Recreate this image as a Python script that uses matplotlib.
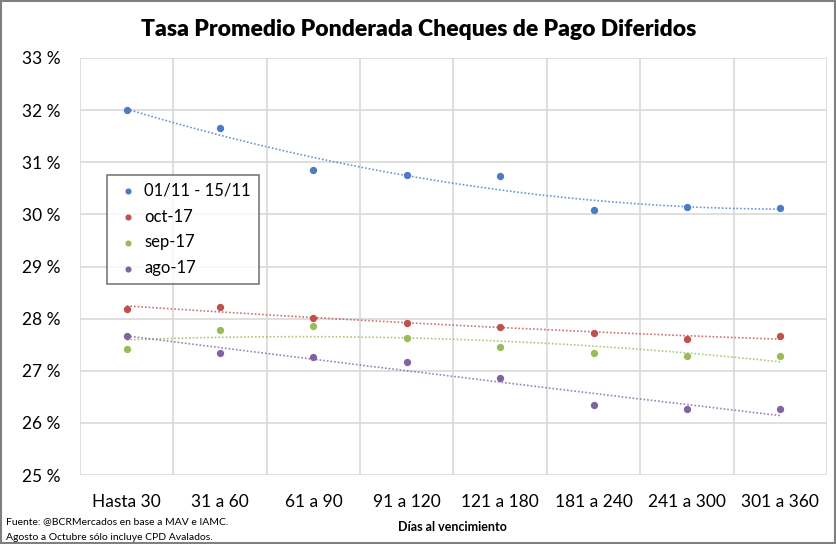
import numpy as np
import matplotlib
matplotlib.use("Agg")
import matplotlib.pyplot as plt
from matplotlib.patches import Rectangle

plt.rcParams['font.family'] = ['Lato', 'DejaVu Sans']

categorias = ["Hasta 30", "31 a 60", "61 a 90", "91 a 120",
              "121 a 180", "181 a 240", "241 a 300", "301 a 360"]
nov = [32.00, 31.66, 30.85, 30.76, 30.74, 30.08, 30.15, 30.12]
oct17 = [28.18, 28.22, 28.02, 27.92, 27.84, 27.72, 27.61, 27.66]
sep17 = [27.41, 27.79, 27.86, 27.63, 27.45, 27.35, 27.29, 27.29]
ago17 = [27.67, 27.35, 27.26, 27.16, 26.86, 26.35, 26.26, 26.26]
series = [("01/11 - 15/11", nov, "#4A7BC4"),
          ("oct-17", oct17, "#C0504D"),
          ("sep-17", sep17, "#9BBB59"),
          ("ago-17", ago17, "#8064A2")]

fig = plt.figure(figsize=(8.37, 5.44), dpi=100)
ax = fig.add_axes([80 / 837, 1 - 475 / 544, 747 / 837, 417 / 544])

x = np.arange(len(categorias))
xs = np.linspace(0, len(categorias) - 1, 200)
handles = []
for nombre, vals, col in series:
    h = ax.scatter(x, vals, s=18, color=col, zorder=3, label=nombre)
    handles.append(h)
    # linea de tendencia polinomica (orden 2), como en Excel
    c = np.polyfit(x, vals, 2)
    ax.plot(xs, np.polyval(c, xs), color=col, lw=1.2, ls=(0, (1, 1.2)),
            alpha=0.8, zorder=2)

ax.set_xlim(-0.5, len(categorias) - 0.5)
ax.set_ylim(25, 33)
ax.set_yticks(range(25, 34))
ax.set_yticklabels([f"{v} %" for v in range(25, 34)], fontsize=12.5)
ax.set_xticks(x)
ax.set_xticklabels(categorias, fontsize=12.5)
ax.set_xticks(np.arange(-0.5, len(categorias), 1), minor=True)
ax.tick_params(axis='both', which='both', length=0)
ax.tick_params(axis='x', pad=14)
ax.tick_params(axis='y', pad=14)
ax.grid(which='major', axis='y', color='#D9D9D9', lw=1.2)
ax.grid(which='minor', axis='x', color='#D9D9D9', lw=1.2)
for s in ax.spines.values():
    s.set_visible(False)
ax.set_axisbelow(True)

leg = ax.legend(handles=handles, loc='upper left',
                bbox_to_anchor=(27 / 747, 1 - 117 / 417), fontsize=12,
                frameon=True, fancybox=False, edgecolor='#595959',
                handletextpad=0.2, labelspacing=0.6, borderpad=0.45,
                borderaxespad=0, markerscale=0.8, handlelength=1.6)
leg.get_frame().set_linewidth(1.2)

fig.text(0.5, 1 - 30 / 544, "Tasa Promedio Ponderada Cheques de Pago Diferidos",
         ha='center', va='center', fontsize=16.5, fontweight='heavy')
fig.text(452 / 837, 1 - 527 / 544, "Días al vencimiento", ha='center',
         va='center', fontsize=9, fontweight='bold')
fig.text(6 / 837, 1 - 522 / 544, "Fuente: @BCRMercados en base a MAV e IAMC.",
         ha='left', va='center', fontsize=7.5)
fig.text(6 / 837, 1 - 537 / 544, "Agosto a Octubre sólo incluye CPD Avalados.",
         ha='left', va='center', fontsize=7.5)

fig.patches.append(Rectangle((0.001, 0.001), 0.997, 0.997, transform=fig.transFigure,
                             fill=False, edgecolor='#808080', lw=1.5))

fig.savefig("out.png", dpi=100)
